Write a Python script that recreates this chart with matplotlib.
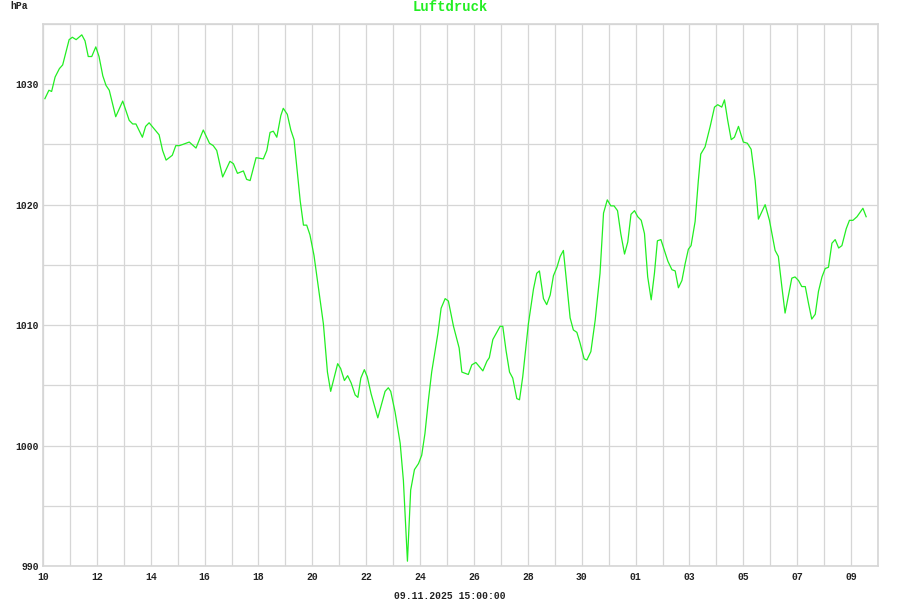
import numpy as np
import pandas as pd
import matplotlib
matplotlib.use("Agg")
import matplotlib.pyplot as plt
import matplotlib.dates as mdates

# Luftdruck (hPa), readings as day offsets from 10.10.2025 00:00
day_offset = [
    0.07, 0.22, 0.32, 0.45, 0.61, 0.73, 0.97, 1.09, 1.23, 1.44, 1.56, 1.68, 1.81, 1.96,
    2.08, 2.22, 2.34, 2.46, 2.70, 2.96, 3.20, 3.33, 3.45, 3.69, 3.81, 3.94, 4.31, 4.44,
    4.57, 4.80, 4.93, 5.06, 5.19, 5.43, 5.68, 5.95, 6.18, 6.32, 6.45, 6.67, 6.94, 7.07,
    7.22, 7.44, 7.56, 7.69, 7.91, 8.18, 8.31, 8.43, 8.55, 8.68, 8.83, 8.92, 9.07, 9.20,
    9.32, 9.45, 9.55, 9.67, 9.79, 9.91, 10.06, 10.22, 10.41, 10.56, 10.68, 10.94, 11.05,
    11.19, 11.31, 11.44, 11.59, 11.69, 11.80, 11.93, 12.04, 12.18, 12.43, 12.70, 12.82,
    12.91, 13.07, 13.26, 13.38, 13.53, 13.65, 13.79, 13.94, 14.06, 14.18, 14.31, 14.43,
    14.56, 14.66, 14.78, 14.93, 15.05, 15.24, 15.45, 15.55, 15.79, 15.92, 16.07, 16.33,
    16.48, 16.57, 16.70, 16.97, 17.07, 17.19, 17.32, 17.44, 17.59, 17.69, 17.81, 18.02,
    18.21, 18.33, 18.43, 18.58, 18.70, 18.83, 18.95, 19.08, 19.20, 19.32, 19.45, 19.57,
    19.69, 19.82, 19.94, 20.09, 20.19, 20.34, 20.50, 20.68, 20.81, 20.95, 21.08, 21.20,
    21.33, 21.45, 21.59, 21.71, 21.83, 21.96, 22.08, 22.21, 22.33, 22.45, 22.58, 22.70,
    22.81, 22.94, 23.07, 23.20, 23.35, 23.47, 23.59, 23.72, 23.84, 23.96, 24.06, 24.21,
    24.33, 24.42, 24.58, 24.77, 24.93, 25.05, 25.20, 25.30, 25.42, 25.55, 25.67, 25.82,
    26.00, 26.15, 26.29, 26.44, 26.56, 26.81, 26.97, 27.18, 27.30, 27.43, 27.55, 27.80,
    27.92, 28.05, 28.17, 28.30, 28.42, 28.54, 28.67, 28.79, 28.92, 29.04, 29.16, 29.29,
    29.41, 29.54, 29.66, 29.82, 29.94, 30.07, 30.22, 30.44, 30.56,
]
pressure = [
    1028.8, 1029.5, 1029.4, 1030.6, 1031.3, 1031.6, 1033.7, 1033.9, 1033.7, 1034.1, 1033.6,
    1032.3, 1032.3, 1033.1, 1032.3, 1030.7, 1029.9, 1029.5, 1027.3, 1028.6, 1027.0, 1026.7,
    1026.7, 1025.6, 1026.5, 1026.8, 1025.8, 1024.5, 1023.7, 1024.1, 1024.9, 1024.9, 1025.0,
    1025.2, 1024.7, 1026.2, 1025.1, 1024.9, 1024.5, 1022.3, 1023.6, 1023.4, 1022.6, 1022.8,
    1022.1, 1022.0, 1023.9, 1023.8, 1024.5, 1026.0, 1026.1, 1025.6, 1027.4, 1028.0, 1027.5,
    1026.2, 1025.4, 1022.5, 1020.3, 1018.3, 1018.3, 1017.5, 1015.8, 1013.2, 1010.1, 1006.1,
    1004.5, 1006.8, 1006.4, 1005.4, 1005.8, 1005.2, 1004.2, 1004.0, 1005.6, 1006.3, 1005.7,
    1004.3, 1002.3, 1004.5, 1004.8, 1004.5, 1002.8, 1000.2, 997.1, 990.4, 996.3, 998.0,
    998.5, 999.2, 1001.0, 1003.8, 1006.1, 1007.9, 1009.3, 1011.4, 1012.2, 1012.0, 1009.9,
    1008.1, 1006.1, 1005.9, 1006.7, 1006.9, 1006.2, 1007.0, 1007.3, 1008.8, 1009.9, 1009.9,
    1007.9, 1006.1, 1005.6, 1003.9, 1003.8, 1005.7, 1010.1, 1013.0, 1014.3, 1014.5, 1012.2,
    1011.7, 1012.5, 1014.1, 1014.8, 1015.7, 1016.2, 1013.3, 1010.6, 1009.6, 1009.4, 1008.5,
    1007.2, 1007.1, 1007.8, 1010.4, 1014.3, 1019.3, 1020.4, 1019.9, 1019.9, 1019.5, 1017.6,
    1015.9, 1016.9, 1019.2, 1019.5, 1019.0, 1018.7, 1017.6, 1014.0, 1012.1, 1014.3, 1017.0,
    1017.1, 1016.2, 1015.3, 1014.6, 1014.5, 1013.1, 1013.7, 1015.1, 1016.3, 1016.6, 1018.6,
    1022.0, 1024.2, 1024.8, 1026.5, 1028.1, 1028.3, 1028.1, 1028.7, 1027.0, 1025.4, 1025.6,
    1026.5, 1025.2, 1025.1, 1024.6, 1022.0, 1018.8, 1020.0, 1018.7, 1016.2, 1015.7, 1013.2,
    1011.0, 1013.9, 1014.0, 1013.7, 1013.2, 1013.2, 1011.8, 1010.5, 1010.9, 1012.8, 1014.0,
    1014.7, 1014.8, 1016.8, 1017.1, 1016.4, 1016.6, 1018.0, 1018.7, 1018.7, 1019.0, 1019.7,
    1019.0,
]

start = pd.Timestamp("2025-10-10")
end = pd.Timestamp("2025-11-10")
stamp = "09.11.2025 15:00:00"
y_min, y_max = 990, 1035

times = start + pd.to_timedelta(day_offset, unit="D")

mono = ["Liberation Mono", "DejaVu Sans Mono"]
green = "#22ee22"
grid_col = "#d6d6d6"

fig = plt.figure(figsize=(9, 6), dpi=100)
ax = fig.add_axes([43 / 900, 1 - 566 / 600, 835 / 900, 542 / 600])

ax.plot(times, pressure, color=green, linewidth=0.9)

ax.set_xlim(start, end)
ax.set_ylim(y_min, y_max)

# day grid, labels every second day
ax.set_xticks(pd.date_range(start, end, freq="D"), minor=True)
ax.set_xticks(pd.date_range(start, end - pd.Timedelta(days=1), freq="2D"))
ax.xaxis.set_major_formatter(mdates.DateFormatter("%d"))
ax.set_yticks(np.arange(y_min, y_max + 1, 5), minor=True)
ax.set_yticks(np.arange(y_min, y_max, 10))

ax.grid(True, which="both", color=grid_col, linewidth=0.9)
ax.set_axisbelow(True)
for s in ax.spines.values():
    s.set_color(grid_col)
    s.set_linewidth(1.2)

ax.tick_params(which="both", length=0)
ax.tick_params(axis="x", pad=4)
ax.tick_params(axis="y", pad=3)
for lbl in ax.get_xticklabels() + ax.get_yticklabels():
    lbl.set_family(mono)
    lbl.set_fontweight("bold")
    lbl.set_fontsize(7)
    lbl.set_color("#222222")

fig.text(0.5, 1 - 7 / 600, "Luftdruck", ha="center", va="center", color=green,
         family=mono, fontweight="bold", fontsize=10)
fig.text(10 / 900, 1 - 6 / 600, "hPa", ha="left", va="center", color="#222222",
         family=mono, fontweight="bold", fontsize=7)
fig.text(450 / 900, 1 - 596 / 600, stamp, ha="center", va="center", color="#222222",
         family=mono, fontweight="bold", fontsize=7)

fig.savefig("out.png", dpi=100, facecolor="white")
